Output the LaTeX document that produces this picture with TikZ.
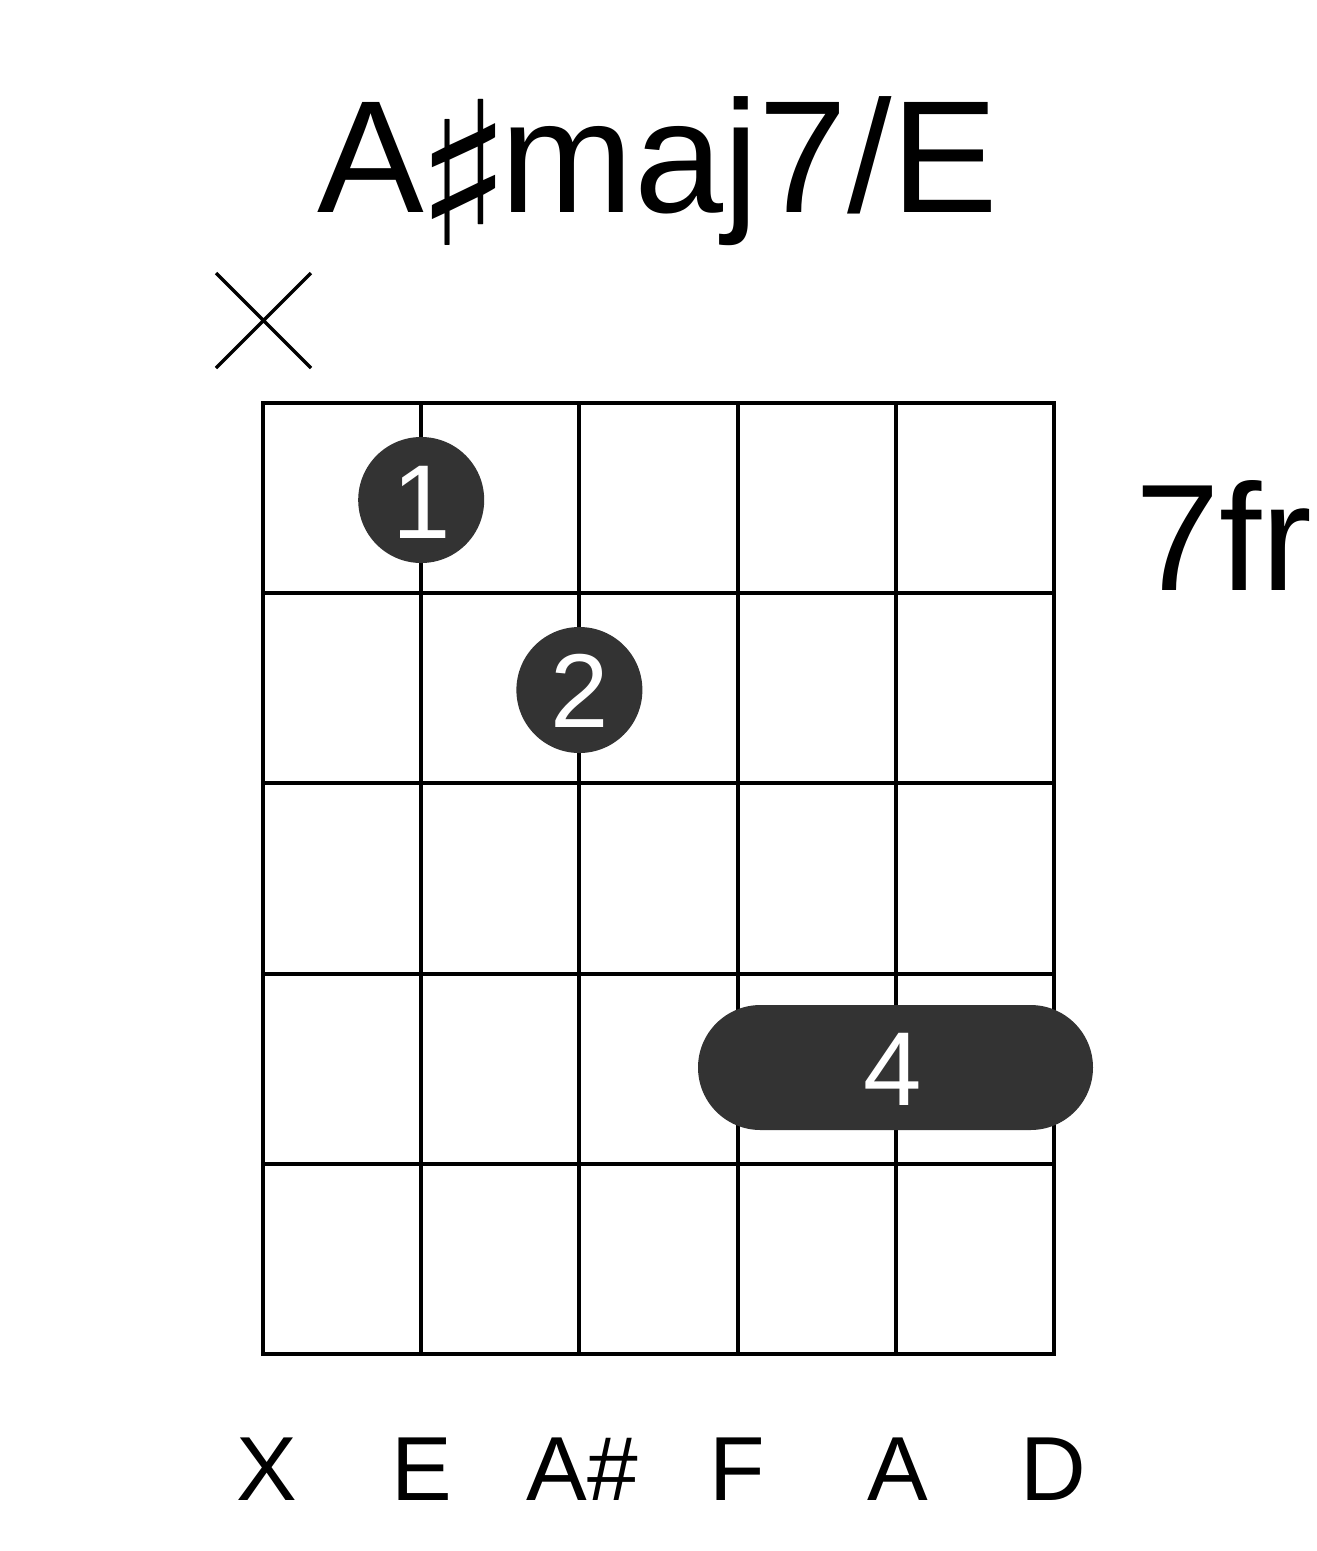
\documentclass[tikz,border=0pt]{standalone}
\usepackage{fontspec}
\setmainfont{Liberation Sans}
\newfontfamily\symfont{DejaVu Sans}
\definecolor{dotgray}{HTML}{333333}
\begin{document}
\begin{tikzpicture}[x=1pt,y=-1pt,
  grid/.style={line width=4pt, line cap=rect},
  lbl/.style={inner sep=0pt, anchor=base, font=\fontsize{91}{91}\selectfont},
  fingerdot/.style={circle, fill=dotgray, minimum size=126pt, inner sep=0pt},
  fingernum/.style={inner sep=0pt, anchor=base, text=white, font=\fontsize{105}{105}\selectfont}]
\useasboundingbox (0,0) rectangle (1317,1551);
\fill[white] (0,0) rectangle (1317,1551);
% title
\node[inner sep=0pt, anchor=base, font=\fontsize{160}{160}\selectfont] (title) at (658,212) {A\kern-8pt\raisebox{-33pt}{\symfont\fontsize{200}{200}\selectfont ♯}\kern-12pt maj7/E};
% muted string
\draw[line width=3.5pt] (216,273) -- (311,368) (311,273) -- (216,368);
% grid
\foreach \x in {263,421.2,579.4,737.6,895.8,1054} \draw[grid] (\x,403) -- (\x,1354);
\foreach \y in {403,593.2,783.4,973.6,1163.8,1354} \draw[grid] (263,\y) -- (1054,\y);
% fret label
\node[inner sep=0pt, anchor=base west, font=\fontsize{152}{152}\selectfont] (fret) at (1135,590) {7fr};
% dots
\node[fingerdot] (d1) at (421.2,500) {};
\node[fingernum] (n1) at (421.2,538) {1};
\node[fingerdot] (d2) at (579.4,690) {};
\node[fingernum] (n2) at (579.4,727) {2};
\fill[dotgray, rounded corners=62.5pt] (698,1005) rectangle (1093,1130);
\node[fingernum] (n4) at (893,1105) {4};
% string labels
\node[lbl] (s1) at (267,1500) {X};
\node[lbl] (s2) at (422,1500) {E};
\node[lbl] (s3) at (582,1500) {A\#};
\node[lbl] (s4) at (737,1500) {F};
\node[lbl] (s5) at (898,1500) {A};
\node[lbl] (s6) at (1053,1500) {D};
\end{tikzpicture}
\end{document}
